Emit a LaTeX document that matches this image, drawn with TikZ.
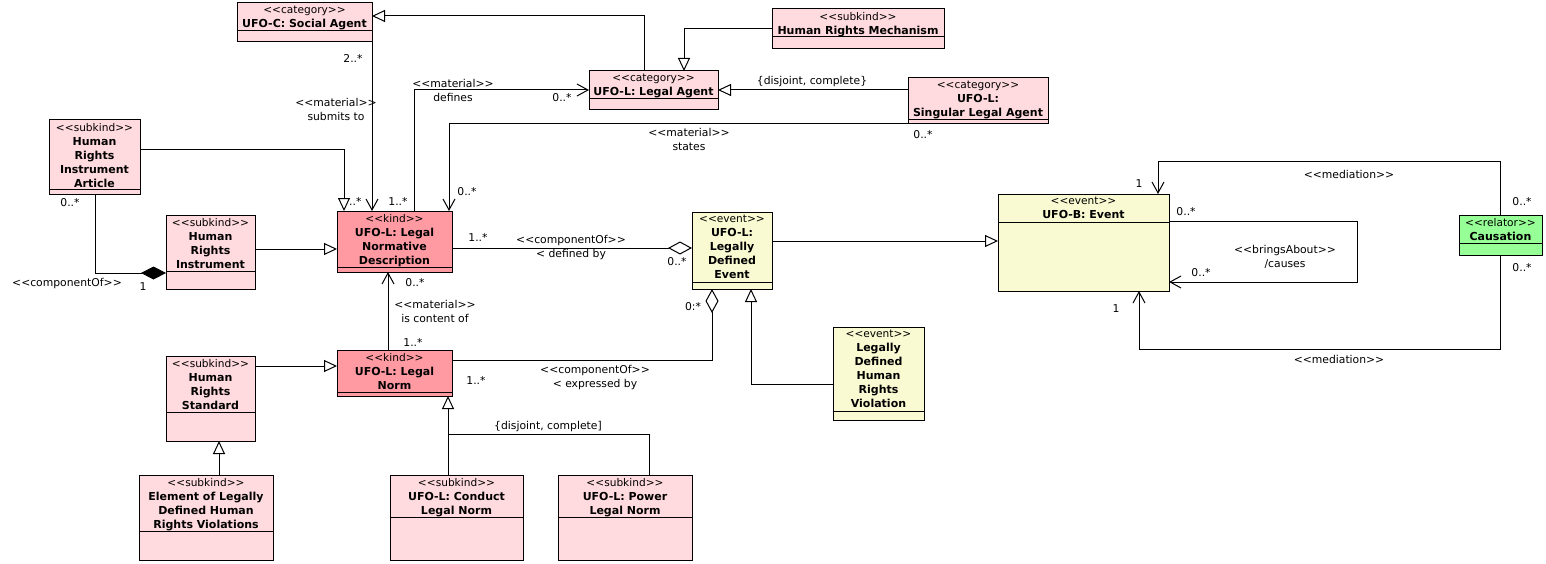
\documentclass[tikz,border=0pt]{standalone}
\usepackage{fontspec}
\setmainfont{DejaVu Sans}
\usetikzlibrary{arrows.meta}
\definecolor{pk}{RGB}{255,218,222}
\definecolor{kd}{RGB}{255,154,162}
\definecolor{ev}{RGB}{250,250,210}
\definecolor{rl}{RGB}{150,255,150}
\newcommand{\st}[1]{{\mdseries\fontsize{10.6}{14}\selectfont<{}<#1>{}>}}
\tikzset{
  cls/.style={draw,anchor=north west,inner sep=0,outer sep=0},
  txt/.style={anchor=north,yshift=-3pt,align=center,inner sep=0,font=\fontsize{11}{14}\selectfont\bfseries,execute at begin node=\rule{0pt}{10pt}},
  lbl/.style={align=center,inner sep=0,font=\fontsize{10.8}{14}\selectfont},
  gen/.style={-{Triangle[open,length=13pt,width=12pt,fill=white]}},
  nav/.style={-{Straight Barb[length=11pt,width=12pt]}},
  agg/.style={-{Diamond[open,length=24pt,width=13pt,fill=white]}},
  comp/.style={-{Diamond[length=25pt,width=13pt]}}
}
\begin{document}
\begin{tikzpicture}[x=1pt,y=-1pt,line width=1pt]
\useasboundingbox (0,0) rectangle (1546,564);
% boxes
\node[cls,fill=pk,minimum width=135pt,minimum height=39pt] (sa) at (237,3) {};
\node[txt] (sa-t) at (sa.north) {\st{category}\\UFO-C: Social Agent};
\draw ([yshift=-28pt]sa.north west) -- ([yshift=-28pt]sa.north east);
\node[cls,fill=pk,minimum width=129pt,minimum height=39pt] (la) at (589,71) {};
\node[txt] (la-t) at (la.north) {\st{category}\\UFO-L: Legal Agent};
\draw ([yshift=-28pt]la.north west) -- ([yshift=-28pt]la.north east);
\node[cls,fill=pk,minimum width=172pt,minimum height=40pt] (hrm) at (772,9) {};
\node[txt] (hrm-t) at (hrm.north) {\st{subkind}\\Human Rights Mechanism};
\draw ([yshift=-28pt]hrm.north west) -- ([yshift=-28pt]hrm.north east);
\node[cls,fill=pk,minimum width=140pt,minimum height=46pt] (sla) at (908,78) {};
\node[txt] (sla-t) at (sla.north) {\st{category}\\UFO-L:\\Singular Legal Agent};
\draw ([yshift=-42pt]sla.north west) -- ([yshift=-42pt]sla.north east);
\node[cls,fill=pk,minimum width=91pt,minimum height=74pt] (hria) at (49,120) {};
\node[txt] (hria-t) at (hria.north) {\st{subkind}\\Human\\Rights\\Instrument\\Article};
\draw ([yshift=-70pt]hria.north west) -- ([yshift=-70pt]hria.north east);
\node[cls,fill=pk,minimum width=89pt,minimum height=74pt] (hri) at (166,215) {};
\node[txt] (hri-t) at (hri.north) {\st{subkind}\\Human\\Rights\\Instrument};
\draw ([yshift=-56pt]hri.north west) -- ([yshift=-56pt]hri.north east);
\node[cls,fill=kd,minimum width=115pt,minimum height=61pt] (lnd) at (337,211) {};
\node[txt] (lnd-t) at (lnd.north) {\st{kind}\\UFO-L: Legal\\Normative\\Description};
\draw ([yshift=-56pt]lnd.north west) -- ([yshift=-56pt]lnd.north east);
\node[cls,fill=kd,minimum width=115pt,minimum height=46pt] (ln) at (337,350) {};
\node[txt] (ln-t) at (ln.north) {\st{kind}\\UFO-L: Legal\\Norm};
\draw ([yshift=-42pt]ln.north west) -- ([yshift=-42pt]ln.north east);
\node[cls,fill=pk,minimum width=89pt,minimum height=85pt] (hrs) at (166,356) {};
\node[txt] (hrs-t) at (hrs.north) {\st{subkind}\\Human\\Rights\\Standard};
\draw ([yshift=-56pt]hrs.north west) -- ([yshift=-56pt]hrs.north east);
\node[cls,fill=pk,minimum width=134pt,minimum height=85pt] (eld) at (139,475) {};
\node[txt] (eld-t) at (eld.north) {\st{subkind}\\Element of Legally\\Defined Human\\Rights Violations};
\draw ([yshift=-56pt]eld.north west) -- ([yshift=-56pt]eld.north east);
\node[cls,fill=pk,minimum width=133pt,minimum height=85pt] (cln) at (390,475) {};
\node[txt] (cln-t) at (cln.north) {\st{subkind}\\UFO-L: Conduct\\Legal Norm};
\draw ([yshift=-42pt]cln.north west) -- ([yshift=-42pt]cln.north east);
\node[cls,fill=pk,minimum width=134pt,minimum height=85pt] (pln) at (558,475) {};
\node[txt] (pln-t) at (pln.north) {\st{subkind}\\UFO-L: Power\\Legal Norm};
\draw ([yshift=-42pt]pln.north west) -- ([yshift=-42pt]pln.north east);
\node[cls,fill=ev,minimum width=80pt,minimum height=77pt] (lde) at (692,212) {};
\node[txt] (lde-t) at (lde.north) {\st{event}\\UFO-L:\\Legally\\Defined\\Event};
\draw ([yshift=-70pt]lde.north west) -- ([yshift=-70pt]lde.north east);
\node[cls,fill=ev,minimum width=91pt,minimum height=93pt] (ldhrv) at (833,327) {};
\node[txt] (ldhrv-t) at (ldhrv.north) {\st{event}\\Legally\\Defined\\Human\\Rights\\Violation};
\draw ([yshift=-84pt]ldhrv.north west) -- ([yshift=-84pt]ldhrv.north east);
\node[cls,fill=ev,minimum width=171pt,minimum height=97pt] (ev) at (998,194) {};
\node[txt] (ev-t) at (ev.north) {\st{event}\\UFO-B: Event};
\draw ([yshift=-28pt]ev.north west) -- ([yshift=-28pt]ev.north east);
\node[cls,fill=rl,minimum width=83pt,minimum height=40pt] (caus) at (1459,215) {};
\node[txt] (caus-t) at (caus.north) {\st{relator}\\Causation};
\draw ([yshift=-28pt]caus.north west) -- ([yshift=-28pt]caus.north east);
% labels
\node[lbl] (m1) at (353,58) {2..*};
\node[lbl] (m2) at (336,109) {<{}<material>{}>\\submits to};
\node[lbl] (m3) at (453,90) {<{}<material>{}>\\defines};
\node[lbl] (m4) at (562,98) {0..*};
\node[lbl] (m5) at (812,82) {\{disjoint, complete\}};
\node[lbl] (m6) at (689,139.5) {<{}<material>{}>\\states};
\node[lbl] (m7) at (923,135) {0..*};
\node[lbl,anchor=east] (m8) at (362,201) {..*};
\node[lbl] (m9) at (398,201) {1..*};
\node[lbl] (m10) at (467,192) {0..*};
\node[lbl] (m11) at (70,203) {0..*};
\node[lbl] (m12) at (67,284) {<{}<componentOf>{}>};
\node[lbl] (m13) at (143,287) {1};
\node[lbl] (m14) at (478,237) {1..*};
\node[lbl] (m15) at (571,248) {<{}<componentOf>{}>\\< defined by};
\node[lbl] (m16) at (677,262) {0..*};
\node[lbl] (m17) at (415,283) {0..*};
\node[lbl] (m18) at (435,311) {<{}<material>{}>\\is content of};
\node[lbl] (m19) at (413,342) {1..*};
\node[lbl] (m20) at (595,378) {<{}<componentOf>{}>\\< expressed by};
\node[lbl] (m21) at (476,380) {1..*};
\node[lbl] (m22) at (693,307) {0:*};
\node[lbl] (m23) at (548,427) {\{disjoint, complete]};
\node[lbl] (m24) at (1139,184) {1};
\node[lbl] (m25) at (1349,174) {<{}<mediation>{}>};
\node[lbl] (m26) at (1522,202) {0..*};
\node[lbl] (m27) at (1186,212) {0..*};
\node[lbl] (m28) at (1201,273) {0..*};
\node[lbl] (m29) at (1285,257) {<{}<bringsAbout>{}>\\/causes};
\node[lbl] (m30) at (1116,309) {1};
\node[lbl] (m31) at (1522,268) {0..*};
\node[lbl] (m32) at (1339,359) {<{}<mediation>{}>};
% connectors
\draw[gen] (la.north -| 644,0) |- (sa.east |- 0,16);
\draw[gen] (hrm.west |- 0,29) -| (la.north -| 684,0);
\draw[gen] (sla.west |- 0,90) -- (la.east |- 0,90);
\draw[nav] (sa.south east) -- (lnd.north -| sa.south east);
\draw[nav] (lnd.north -| 414,0) |- (la.west |- 0,90);
\draw[nav] (sla.south west) -| (lnd.north -| 449,0);
\draw[gen] (hria.east |- 0,150) -| (lnd.north -| 344,0);
\draw[comp] (hria.south -| 95,0) |- (hri.west |- 0,273);
\draw[gen] (hri.east |- 0,249) -- (lnd.west |- 0,249);
\draw[nav] (ln.north -| 388,0) -- (lnd.south -| 388,0);
\draw[gen] (hrs.east |- 0,366) -- (ln.west |- 0,366);
\draw[gen] (eld.north -| 219,0) -- (hrs.south -| 219,0);
\coordinate (jn) at (448,434);
\draw[gen] (cln.north -| jn) -- (ln.south -| jn);
\draw (pln.north -| 649,0) |- (jn);
\draw[agg] (lnd.east |- 0,248) -- (lde.west |- 0,248);
\draw[agg] (ln.east |- 0,360) -| (lde.south -| 712,0);
\draw[gen] (lde.east |- 0,241) -- (ev.west |- 0,241);
\draw[gen] (ldhrv.west |- 0,384) -| (lde.south -| 751,0);
\draw[nav] (caus.north) |- (1158,162) -- (ev.north -| 1158,0);
\draw[nav] (caus.south) |- (1139,349) -- (ev.south -| 1139,0);
\draw[nav] (ev.east |- 0,221) -| (1357,282) -- (ev.east |- 0,282);
\end{tikzpicture}
\end{document}
